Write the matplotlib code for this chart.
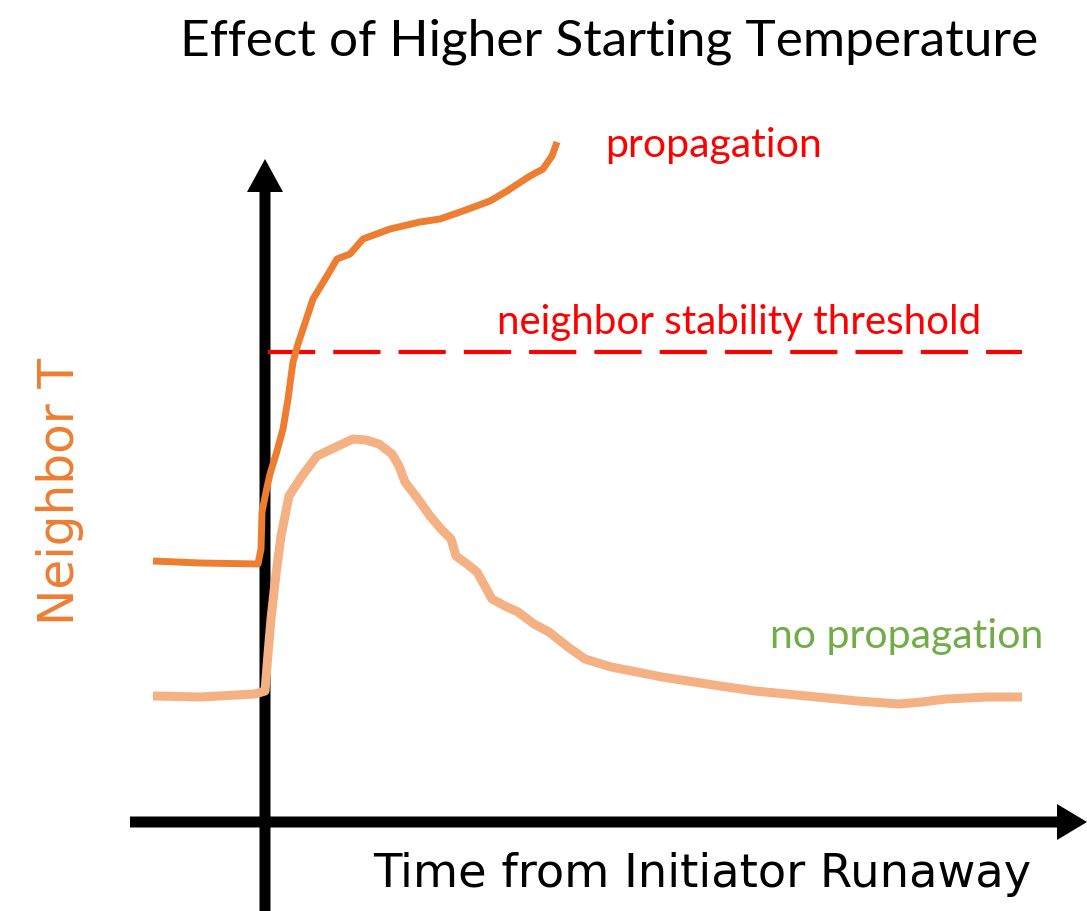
import matplotlib.pyplot as plt

# values, in image pixels (x right, y down)
prop_x = [153, 200, 258, 261, 262, 266, 270, 277, 283, 288, 293, 298, 303, 313, 327, 337, 350, 363,
          390, 420, 440, 463, 490, 507, 530, 543, 552, 557]
prop_y = [562, 564, 565, 550, 513, 493, 475, 452, 430, 400, 363, 345, 330, 300, 277, 260, 255, 240,
          230, 223, 220, 212, 202, 192, 177, 170, 157, 143]

noprop_x = [153, 200, 255, 265, 268, 271, 276, 281, 289, 302, 317, 338, 353, 366, 379, 392, 399, 405,
            418, 430, 441, 451, 456, 467, 477, 492, 505, 518, 534, 549, 568, 585, 611, 637, 662, 688,
            720, 755, 786, 817, 858, 899, 922, 946, 987, 1022]
noprop_y = [697, 698, 695, 692, 655, 620, 575, 537, 497, 477, 457, 447, 440, 441, 445, 455, 467, 483,
            500, 517, 530, 540, 557, 565, 573, 600, 607, 613, 625, 633, 648, 660, 668, 673, 678, 682,
            687, 692, 695, 698, 702, 705, 703, 700, 698, 698]

threshold_y = 353
threshold_x = [268, 1022]

dark_orange = "#ED7D31"
light_orange = "#F4B183"

plt.rcParams['lines.scale_dashes'] = False

fig = plt.figure(figsize=(10.87, 9.12), dpi=100)
ax = fig.add_axes([0, 0, 1, 1])
ax.set_xlim(0, 1087)
ax.set_ylim(912, 0)
ax.axis("off")

# axes arrows
ax.arrow(265, 912, 0, -752, width=11, head_width=36, head_length=33,
         length_includes_head=True, color="black", lw=0)
ax.arrow(130, 823, 957, 0, width=11, head_width=36, head_length=30,
         length_includes_head=True, color="black", lw=0)

ax.plot(threshold_x, [threshold_y] * 2, color="red", lw=3, dashes=(34, 13))
ax.plot(noprop_x, noprop_y, color=light_orange, lw=6.5, solid_capstyle="butt", solid_joinstyle="round")
ax.plot(prop_x, prop_y, color=dark_orange, lw=5, solid_capstyle="butt", solid_joinstyle="round")

calibri = "Lato"
ax.text(609, 42, "Effect of Higher Starting Temperature", fontsize=37, family=calibri,
        ha="center", va="center", color="black")
ax.text(605, 145, "propagation", fontsize=29.5, family=calibri, ha="left", va="center", color="red")
ax.text(497, 323, "neighbor stability threshold", fontsize=29, family=calibri,
        ha="left", va="center", color="red")
ax.text(770, 637, "no propagation", fontsize=29.5, family=calibri, ha="left", va="center", color="#70AD47")
ax.text(60, 492, "Neighbor T", fontsize=35, family="DejaVu Sans", rotation=90,
        ha="center", va="center", color=dark_orange)
ax.text(373, 875, "Time from Initiator Runaway", fontsize=33.4, family="DejaVu Sans",
        ha="left", va="center", color="black")

fig.savefig("out.png", dpi=100)
